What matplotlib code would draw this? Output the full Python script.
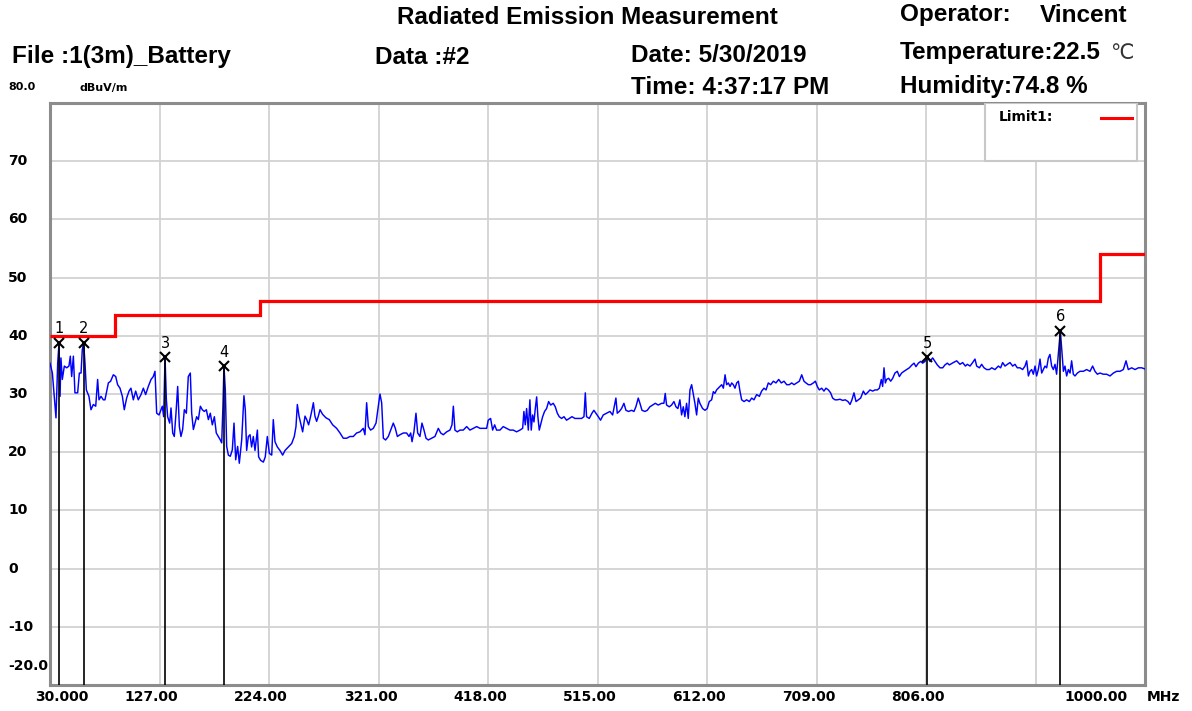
import matplotlib
matplotlib.use("Agg")
import matplotlib.pyplot as plt
import numpy as np
from matplotlib.patches import Rectangle
from matplotlib.lines import Line2D
from matplotlib.transforms import blended_transform_factory

# ---------------- data ----------------
trace_freq = [
    30.0, 32.1, 33.8, 35.3, 36.8, 38.0, 38.9, 39.7, 40.9, 42.7, 44.8, 46.8, 48.0, 49.2, 50.7, 52.1,
    54.5, 56.0, 57.5, 58.6, 59.8, 61.0, 62.2, 64.5, 66.3, 68.4, 70.5, 72.2, 73.4, 75.2, 77.2, 78.7,
    80.2, 81.7, 83.7, 86.1, 88.2, 89.9, 92.0, 94.1, 95.8, 97.9, 100.0, 101.7, 103.8, 105.9, 108.2,
    110.6, 112.7, 114.7, 117.1, 119.5, 121.5, 123.0, 124.5, 126.6, 128.3, 129.5, 130.7, 131.9, 133.1,
    134.2, 136.0, 137.2, 138.7, 140.1, 141.6, 143.1, 144.6, 146.0, 147.5, 149.0, 150.8, 152.5, 154.3,
    155.5, 157.0, 158.4, 159.9, 161.4, 163.2, 164.9, 166.7, 168.5, 170.3, 172.0, 173.8, 175.6, 177.3,
    179.1, 180.9, 182.1, 183.2, 184.1, 185.3, 186.5, 188.0, 189.7, 191.5, 193.0, 194.5, 196.2, 197.7,
    199.8, 201.8,
    203.0, 204.2, 205.7, 207.2, 208.6, 210.1, 211.6, 213.7, 214.8, 216.6, 219.0, 220.7, 222.5, 224.3,
    226.4, 227.8, 229.3, 231.4, 233.7, 236.1, 238.2, 241.1, 244.1, 246.4, 247.9, 249.1, 250.6, 252.0,
    253.8, 255.9, 257.4, 259.1, 260.9, 262.1, 263.3, 264.7, 266.2, 267.7, 269.2, 271.5, 274.5, 277.4,
    280.4, 283.9, 286.9, 289.8, 292.8, 295.7, 298.7, 301.6, 304.6, 307.5, 309.0, 310.5, 312.0, 314.0,
    316.4, 318.8, 320.8, 322.3, 323.8, 325.3, 327.3, 329.7, 331.8, 334.1, 335.9, 337.7, 340.0, 343.0,
    345.9, 348.0, 349.5, 350.7, 352.4, 354.2, 355.7, 357.7, 359.5, 361.3, 363.1, 365.1, 368.1, 371.0,
    374.0, 376.1, 378.4, 381.4, 384.3, 386.1, 387.3, 388.7, 390.8, 393.2, 396.1, 399.1, 402.0, 405.0,
    408.0, 410.9,
    413.8, 416.8, 418.2, 420.3, 422.1, 423.9, 425.6, 428.6, 431.5, 434.5, 437.4, 440.4, 443.3, 446.3,
    448.7, 449.8, 451.0, 452.2, 453.7, 455.1, 456.3, 457.5, 458.7, 459.9, 461.1, 462.2, 463.4, 464.6,
    466.4, 468.1, 469.9, 471.7, 473.5, 475.8, 477.6, 479.4, 481.1, 483.2, 485.3, 487.6, 490.0, 492.4,
    495.0, 498.0, 500.9, 503.0, 504.2, 505.3, 507.7, 510.1, 511.8, 513.6, 515.7, 517.7, 520.1, 523.1,
    526.0, 528.4, 530.1, 531.3, 532.5, 534.3, 536.3, 538.4, 540.2, 542.5, 545.2, 547.3, 549.0, 551.1,
    552.6, 554.4, 557.0, 559.1, 561.4, 563.8, 566.2, 568.8, 571.8, 573.8, 575.0, 576.2, 578.6, 580.6,
    582.7, 584.5, 586.2, 588.0, 589.5, 591.0, 592.4, 593.9, 595.4, 596.9, 598.4, 599.8, 601.3, 602.8,
    604.3, 605.7, 608.1, 610.2, 612.2, 614.0, 616.1, 617.6, 619.0, 620.5, 622.0,
    625.0, 626.5, 628.0, 629.4, 630.9, 632.4, 633.9, 635.3, 636.8, 638.3, 639.8, 641.2, 642.7, 644.8,
    647.1, 649.5, 651.6, 653.6, 656.0, 658.4, 660.4, 662.5, 664.3, 666.3, 668.4, 670.8, 673.1, 675.5,
    677.8, 680.2, 682.6, 684.9, 687.0, 689.1, 691.4, 693.8, 695.9, 697.9, 699.7, 701.8, 703.8, 706.2,
    708.0, 709.7, 711.5, 713.6, 715.6, 717.4, 719.5, 721.5, 723.3, 725.4, 727.4, 729.8, 732.2, 734.5,
    736.9, 738.7, 740.4, 742.2, 744.0, 746.1, 748.1, 750.5, 752.3, 754.0, 756.4, 758.8, 760.8, 762.9,
    764.7, 766.4, 767.6, 768.8, 770.0, 771.1, 772.9, 774.7, 776.5, 778.5, 780.6, 782.4, 784.4, 786.5,
    788.9, 791.2, 793.6, 795.4, 797.1, 799.2, 801.3, 803.0, 805.1, 807.2, 809.5, 811.9, 814.0, 816.0,
    818.4, 820.8, 822.8, 824.9, 826.7,
    830.2, 833.2, 836.1, 838.5, 840.9, 842.6, 845.0, 847.3, 849.4, 850.9, 853.3, 855.3, 857.4, 859.7,
    862.1, 864.2, 867.1, 870.1, 872.1, 873.9, 876.0, 878.1, 880.4, 882.8, 884.8, 886.9, 889.3, 891.6,
    893.7, 895.2, 896.7, 898.1, 899.6, 901.1, 902.6, 904.0, 905.5, 907.0, 908.5, 909.9, 911.4, 912.9,
    914.4, 915.8, 917.3, 918.8, 920.3, 921.7, 923.2, 924.1, 925.0, 926.2, 927.7, 929.1, 930.6, 932.1,
    933.6, 935.0, 936.5, 938.0, 940.1, 942.4, 945.4, 948.3, 951.3, 953.6, 955.7, 957.8, 960.1, 963.1,
    966.0, 969.0, 972.0, 974.9, 977.9, 980.8, 983.2, 985.2, 988.2, 991.2, 994.1, 997.1, 1000.0,
]
trace_level = [
    35.3, 33.6, 29.6, 25.9, 35.3, 38.8, 29.6, 36.2, 32.5, 34.8, 34.5, 34.8, 36.5, 33.0, 36.5, 30.2,
    30.2, 33.6, 33.6, 37.6, 38.8, 35.3, 30.7, 29.6, 27.3, 28.2, 27.9, 32.5, 29.0, 29.6, 29.0, 29.0,
    30.5, 31.9, 32.2, 33.3, 33.0, 31.6, 31.0, 29.6, 27.3, 29.3, 30.5, 31.0, 29.0, 30.5, 29.0,
    29.9, 31.0, 29.9, 31.3, 32.5, 33.0, 33.9, 26.7, 26.4, 27.3, 27.9, 26.1, 36.3, 29.0,
    26.1, 25.0, 27.6, 23.3, 22.7, 26.7, 31.3, 24.4, 22.7, 23.9, 27.3, 26.7, 33.0, 33.6,
    26.7, 23.9, 25.0, 26.1, 25.6, 27.9, 27.3, 27.0, 27.3, 25.6, 26.7, 24.7, 26.1, 23.3,
    22.7, 22.1, 21.6, 27.9, 34.8, 30.7, 21.0, 19.5, 19.3, 20.4, 25.0, 18.7, 21.0, 18.1,
    22.1, 29.7,
    27.3, 20.3, 22.7, 23.0, 20.9, 22.7, 20.3, 23.8, 19.2, 18.6, 18.3, 19.2, 22.7, 19.8,
    19.5, 25.6, 21.8, 20.9, 20.3, 19.5, 20.3, 20.9, 21.5, 22.7, 24.4, 28.2, 26.2, 25.0,
    23.5, 26.2, 25.6, 24.7, 26.2, 27.3, 28.5, 26.2, 25.3, 26.2, 27.3, 26.5, 25.9, 25.6,
    24.7, 24.1, 23.3, 22.4, 22.4, 22.7, 22.7, 23.3, 23.5, 24.1, 23.0, 28.5, 24.4, 23.8,
    24.1, 25.0, 27.9, 30.0, 28.5, 22.4, 22.1, 22.7, 23.8, 25.0, 24.1, 22.7, 23.0, 23.3,
    23.3, 22.7, 23.3, 21.8, 23.5, 26.7, 23.3, 22.7, 25.0, 23.8, 22.4, 22.1, 22.4, 22.7,
    24.1, 23.3, 23.0, 23.5, 23.8, 24.7, 27.9, 23.8, 23.5, 23.8, 23.8, 24.4, 23.8, 24.1,
    24.4, 24.1,
    24.1, 24.1, 25.5, 25.8, 23.8, 24.7, 23.8, 23.8, 24.4, 24.1, 23.8, 23.8, 23.5, 23.8,
    24.1, 27.0, 24.7, 27.5, 23.8, 29.0, 23.8, 26.4, 25.2, 27.5, 29.5, 26.1, 23.8, 24.7,
    26.1, 27.0, 27.5, 28.7, 28.1, 28.4, 27.8, 26.7, 26.1, 25.8, 26.1, 25.5, 25.8, 26.1,
    25.8, 25.8, 25.8, 26.1, 30.2, 26.1, 25.8, 26.7, 27.2, 26.7, 26.1, 25.5, 26.4, 26.7,
    27.0, 26.4, 28.1, 29.3, 26.7, 27.0, 27.5, 28.4, 27.2, 27.0, 27.2, 27.0, 27.8, 29.3,
    28.4, 27.2, 27.0, 27.2, 27.8, 28.1, 28.4, 28.1, 28.4, 28.4, 30.1, 28.1, 27.8, 28.1,
    28.7, 27.8, 27.5, 29.0, 26.4, 27.8, 26.1, 28.4, 25.8, 30.7, 31.6, 30.1, 28.4, 26.4,
    29.3, 28.4, 27.5, 27.2, 27.5, 28.7, 29.0, 30.4, 30.1, 30.7, 31.0,
    31.6, 31.0, 33.3, 31.6, 31.9, 31.3, 31.9, 31.6, 31.0, 31.9, 32.2, 30.5, 29.0, 28.7,
    29.0, 28.7, 29.3, 29.0, 29.9, 29.6, 30.5, 31.0, 30.7, 31.9, 31.6, 32.2, 31.9, 32.5,
    31.9, 32.2, 31.6, 31.6, 31.9, 31.6, 31.9, 32.2, 33.3, 32.2, 31.9, 31.6, 31.6, 31.9,
    32.2, 31.3, 30.7, 31.0, 30.5, 31.0, 30.7, 30.2, 29.3, 29.0, 29.0, 29.1, 28.9, 29.0,
    28.7, 28.2, 29.0, 30.2, 28.7, 29.0, 29.3, 30.5, 29.9, 30.2, 30.7, 30.5, 30.7, 30.7,
    31.0, 32.5, 31.3, 34.5, 31.9, 32.5, 32.7, 32.2, 32.7, 33.6, 33.9, 33.0, 33.6, 33.9,
    34.2, 34.5, 35.0, 35.3, 34.7, 35.3, 35.6, 35.3, 35.6, 36.3, 35.6, 36.2, 35.6, 35.0,
    34.5, 34.5, 35.0, 35.3, 35.0,
    35.4, 35.7, 35.1, 35.4, 34.8, 35.1, 34.8, 35.4, 36.0, 34.8, 34.5, 35.1, 34.5, 34.2,
    34.2, 34.5, 34.2, 34.8, 34.5, 35.4, 34.8, 35.1, 35.4, 34.8, 35.1, 34.5, 34.5, 34.2,
    34.8, 35.7, 33.1, 33.9, 34.2, 33.4, 34.8, 33.1, 34.2, 36.0, 33.6, 34.2, 34.8, 34.5,
    36.2, 36.8, 34.8, 34.2, 35.1, 33.4, 36.8, 38.8, 40.9, 37.7, 33.9, 34.8, 33.1, 34.2,
    33.6, 35.7, 33.4, 33.1, 33.6, 33.9, 33.9, 34.2, 33.9, 34.8, 33.9, 33.4, 33.6, 33.4,
    33.4, 33.1, 33.6, 33.9, 33.9, 34.2, 35.7, 34.2, 34.5, 34.2, 34.5, 34.5, 34.3,
]

limit_edges = [30, 88, 216, 960, 1000]
limit_levels = [40, 43.5, 46, 54]
limit_name = "Limit1:"

marker_ids = ["1", "2", "3", "4", "5", "6"]
marker_freq = [38.0, 59.8, 131.9, 184.1, 807.2, 925.0]
marker_level = [38.8, 38.8, 36.3, 34.8, 36.3, 40.9]

x_tick_vals = [30, 127, 224, 321, 418, 515, 612, 709, 806, 1000]
x_tick_labels = ["30.000", "127.00", "224.00", "321.00", "418.00", "515.00",
                 "612.00", "709.00", "806.00", "1000.00"]
y_tick_vals = [70, 60, 50, 40, 30, 20, 10, 0, -10]
y_bottom_label = "-20.0"
y_top_label = "80.0"
y_unit = "dBuV/m"
x_unit = "MHz"

title = "Radiated Emission Measurement"
file_txt = "File :1(3m)_Battery"
data_txt = "Data :#2"
date_txt = "Date: 5/30/2019"
time_txt = "Time: 4:37:17 PM"
oper_lbl = "Operator:"
oper_name = "Vincent"
temp_txt = "Temperature:22.5"
temp_unit = "℃"
hum_txt = "Humidity:74.8 %"

# ---------------- figure ----------------
W, H = 1192, 711
fig = plt.figure(figsize=(W / 100, H / 100), dpi=100)
fig.patch.set_facecolor("white")

def fx(px):
    return px / W

def fy(py):
    return 1 - py / H

ax = fig.add_axes([fx(50), fy(685), 1095 / W, 582 / H])
ax.set_xlim(30, 1000)
ax.set_ylim(-20, 80)
ax.set_xticks(np.linspace(30, 1000, 11))
ax.set_yticks(np.arange(-20, 81, 10))
ax.set_xticklabels([])
ax.set_yticklabels([])
ax.tick_params(length=0)
ax.grid(True, color="#d2d2d2", lw=1.3)
ax.set_axisbelow(True)
for s in ax.spines.values():
    s.set_color("#8c8c8c")
    s.set_linewidth(2.2)

# trace
ax.plot(trace_freq, trace_level, color="#0000ff", lw=1.05, zorder=3)

# limit line
ax.stairs(limit_levels, limit_edges, baseline=None, color="#ff0000", lw=2.3, zorder=4)

# markers
for mid, mf, ml in zip(marker_ids, marker_freq, marker_level):
    ax.plot([mf, mf], [-20, ml], color="black", lw=1.2, zorder=5)
    ax.plot([mf], [ml], marker="x", color="black", ms=7.5, mew=1.5, zorder=6)
    ax.annotate(mid, xy=(mf, ml), xytext=(0, 14), textcoords="offset pixels",
                ha="center", va="center", fontsize=10.5, family="DejaVu Sans",
                zorder=6)

# tick labels
tb = blended_transform_factory(ax.transData, ax.transAxes)
for v, lab in zip(x_tick_vals, x_tick_labels):
    if v == x_tick_vals[0]:
        dx = 12
    elif v == x_tick_vals[-1]:
        dx = -49
    else:
        dx = -8
    ax.annotate(lab, xy=(v, 0), xycoords=tb, xytext=(dx, -12),
                textcoords="offset pixels", ha="center", va="center",
                fontsize=10, fontweight="bold", family="DejaVu Sans",
                annotation_clip=False)
ax.annotate(x_unit, xy=(1000, 0), xycoords=tb, xytext=(2, -12),
            textcoords="offset pixels", ha="left", va="center",
            fontsize=10, fontweight="bold", family="DejaVu Sans",
            annotation_clip=False)

yb = blended_transform_factory(fig.transFigure, ax.transData)
for v in y_tick_vals:
    ax.text(fx(8), v, f"{v}", transform=yb, ha="left", va="center",
            fontsize=10, fontweight="bold", family="DejaVu Sans")
ax.annotate(y_bottom_label, xy=(fx(8), -20), xycoords=yb, xytext=(0, 19),
            textcoords="offset pixels", ha="left", va="center",
            fontsize=10, fontweight="bold", family="DejaVu Sans",
            annotation_clip=False)

fig.text(fx(8), fy(87), y_top_label, ha="left", va="center",
         fontsize=8, fontweight="bold", family="DejaVu Sans")
fig.text(fx(80), fy(88), y_unit, ha="left", va="center",
         fontsize=8, fontweight="bold", family="DejaVu Sans")

# legend box
ax.add_patch(Rectangle((0.854, 0.900), 0.1385, 0.1, transform=ax.transAxes,
                       facecolor="white", edgecolor="#c8c8c8", lw=1.5, zorder=7))
fig.text(fx(999), fy(117), limit_name, ha="left", va="center",
         fontsize=10, fontweight="bold", family="DejaVu Sans", zorder=8)
fig.add_artist(Line2D([fx(1101), fx(1132)], [fy(118), fy(118)],
                      color="#ff0000", lw=2.2, zorder=8))

# header
hfont = dict(fontsize=17.5, fontweight="bold", family=["Liberation Sans", "DejaVu Sans"])
fig.text(fx(587), fy(18), title, ha="center", va="center", **hfont)
fig.text(fx(12), fy(57), file_txt, ha="left", va="center", **hfont)
fig.text(fx(375), fy(57), data_txt, ha="left", va="center", **hfont)
fig.text(fx(631), fy(56), date_txt, ha="left", va="center", **hfont)
fig.text(fx(631), fy(88), time_txt, ha="left", va="center", **hfont)
fig.text(fx(900), fy(15), oper_lbl, ha="left", va="center", **hfont)
fig.text(fx(1040), fy(15), oper_name, ha="left", va="center", **hfont)
fig.text(fx(900), fy(52), temp_txt, ha="left", va="center", **hfont)
fig.text(fx(1110), fy(53), temp_unit, ha="left", va="center", fontsize=15,
         family="DejaVu Sans", color="#333333")
fig.text(fx(900), fy(87), hum_txt, ha="left", va="center", **hfont)

fig.savefig("out.png", dpi=100, facecolor="white")
